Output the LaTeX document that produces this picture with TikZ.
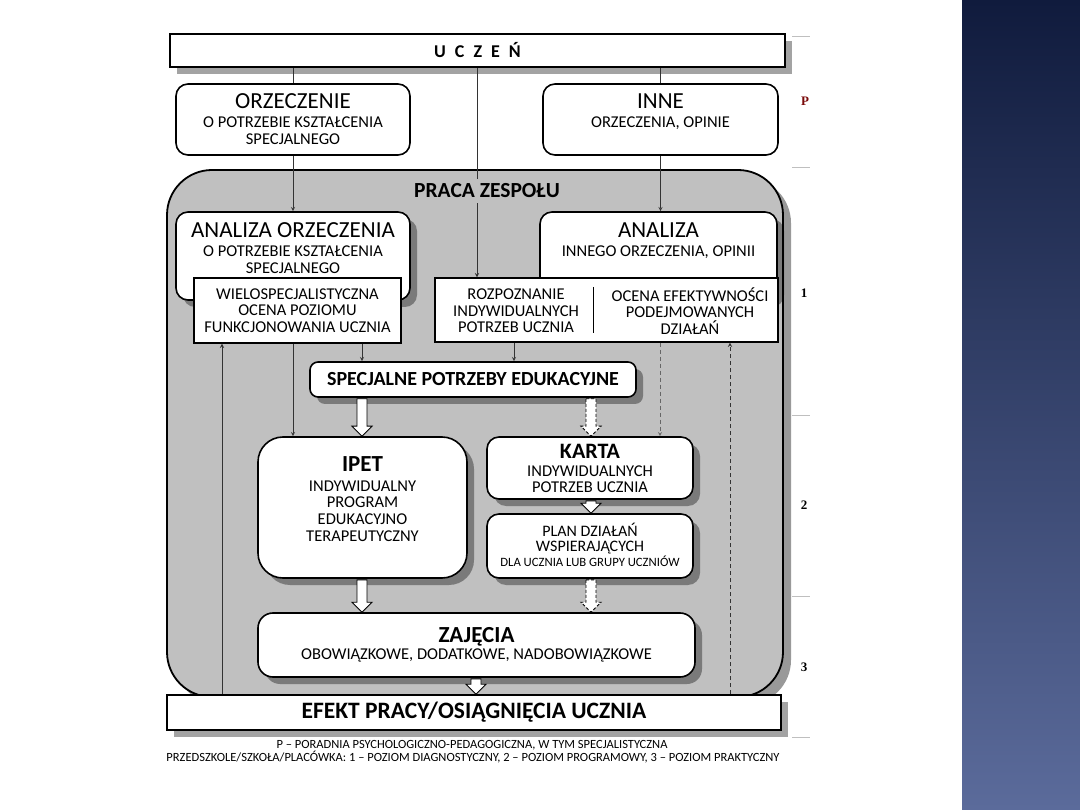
\documentclass[tikz,border=0pt]{standalone}
\usepackage{fontspec}
\setmainfont{Carlito}
\newfontfamily\sidefont{Liberation Serif}
\usetikzlibrary{calc,shadows}
\definecolor{panelgray}{HTML}{C0C0C0}
\definecolor{slidetop}{HTML}{101B3D}
\definecolor{slidebot}{HTML}{5B6B9B}
\definecolor{plabel}{HTML}{7A0A0A}
\newcommand{\hd}{\fontsize{23}{25}\selectfont}% box headings
\newcommand{\sm}{\fontsize{16.5}{17}\selectfont}% small capitals lines
\newcommand{\bhd}{\bfseries\fontsize{23}{25}\selectfont}
\newcommand{\blkarrow}[4]{% x, upper node, lower node, extra style (hollow block arrow)
  \draw[blk,#4] let \p1=(#2.south), \p2=(#3.north) in
    (#1pt-5pt,\y1-1pt) -- (#1pt-5pt,\y2+10pt) -- (#1pt-10pt,\y2+10pt) -- (#1pt,\y2)
    -- (#1pt+10pt,\y2+10pt) -- (#1pt+5pt,\y2+10pt) -- (#1pt+5pt,\y1-1pt) -- cycle;}
\tikzset{
  shade/.style={drop shadow={shadow xshift=7pt,shadow yshift=-7pt,fill=black,opacity=.36}},
  rbox/.style={draw,line width=1.6pt,fill=white,rounded corners=#1,align=center,inner sep=0pt,font=\sm},
  rbox/.default=12pt,
  sqbox/.style={draw,line width=1.4pt,fill=white,align=center,inner sep=0pt},
  bar/.style={sqbox,line width=1.6pt,shade},
  conn/.style={line width=0.9pt,black!80},
  blk/.style={fill=white,draw,line width=0.9pt},
  side/.style={font=\sidefont\bfseries\fontsize{13}{13}\selectfont},
  lines/.style={align=center,font=\fontsize{16.5}{16.7}\selectfont},
}
\begin{document}
\begin{tikzpicture}[x=1pt,y=-1pt,>=stealth]
  \useasboundingbox (0,0) rectangle (1080,810);
  \fill[white] (0,0) rectangle (1080,810);
  % slide background strip
  \fill[top color=slidetop,bottom color=slidebot] (962,0) rectangle (1080,810);
  % level marks
  \foreach \yy in {36,167,415,596,737}
    \draw[black!25,line width=0.8pt] (792,\yy) -- (810,\yy);
  \node[side,text=plabel] (lvP) at (805,101) {P};
  \node[side] (lv1) at (804,293) {1};
  \node[side] (lv2) at (804,505) {2};
  \node[side] (lv3) at (804,667) {3};
  % top row
  \node[bar,minimum width=615,minimum height=33] (ucz) at (477.5,50.5)
    {\bfseries\fontsize{18}{20}\selectfont U\hspace{9pt}C\hspace{9pt}Z\hspace{9pt}E\hspace{9pt}Ń};
  \node[rbox,minimum width=234,minimum height=71] (orz) at (293,119.5)
    {{\hd ORZECZENIE}\\[2pt] O POTRZEBIE KSZTAŁCENIA\\ SPECJALNEGO};
  \node[rbox,minimum width=235,minimum height=71] (inne) at (660.5,119.5) {};
  \node[align=center,font=\sm] (inne-t) at (660.5,112) {{\hd INNE}\\[2pt] ORZECZENIA, OPINIE};
  % team panel
  \node[draw,line width=1.8pt,fill=panelgray,rounded corners=45pt,minimum width=616,minimum height=527,
    drop shadow={shadow xshift=8pt,shadow yshift=-8pt,fill=black!40,opacity=1}] (team) at (475,433.5) {};
  \draw[conn] (orz.north |- ucz.south) -- (orz.north);
  \draw[conn] (inne.north |- ucz.south) -- (inne.north);
  \coordinate (mid) at (477,0);
  \node[font=\bfseries\fontsize{21.5}{23}\selectfont,fill=panelgray,inner sep=5pt] (ttl) at (487,191) {PRACA ZESPOŁU};
  % diagnosis level
  \node[rbox,shade,minimum width=234,minimum height=88] (anOrz) at (293,256) {};
  \node[align=center,font=\sm] (anOrz-t) at (293,248)
    {{\hd ANALIZA ORZECZENIA}\\[2pt] O POTRZEBIE KSZTAŁCENIA\\ SPECJALNEGO};
  \node[rbox,shade,minimum width=237,minimum height=88] (anInne) at (658.5,256) {};
  \node[align=center,font=\sm] (anInne-t) at (658.5,241) {{\hd ANALIZA}\\[2pt] INNEGO ORZECZENIA, OPINII};
  \draw[conn,->] (orz.south) -- (orz.south |- anOrz.north);
  \draw[conn,->] (inne.south) -- (inne.south |- anInne.north);
  \draw[conn] (mid |- ucz.south) -- (mid |- ttl.north);
  \node[sqbox,lines,minimum width=207,minimum height=65] (wielo) at (297.5,310.5)
    {WIELOSPECJALISTYCZNA\\ OCENA POZIOMU\\ FUNKCJONOWANIA UCZNIA};
  \node[sqbox,minimum width=343,minimum height=64] (diag) at (606.5,310) {};
  \draw[conn,->] (mid |- ttl.south) -- (mid |- diag.north);
  \node[lines] (rozp) at (516,311) {ROZPOZNANIE\\ INDYWIDUALNYCH\\ POTRZEB UCZNIA};
  \node[lines] (ocena) at (690,311) {OCENA EFEKTYWNOŚCI\\ PODEJMOWANYCH\\ DZIAŁAŃ};
  \draw[line width=0.9pt] (593,287) -- (593,333);
  % special needs
  \node[rbox=8pt,shade,minimum width=326,minimum height=35,font=\bfseries\fontsize{20}{22}\selectfont] (spe) at (473,379.5)
    {SPECJALNE POTRZEBY EDUKACYJNE};
  \coordinate (cl) at (362,0);
  \coordinate (cw) at (293,0);
  \coordinate (cd) at (514,0);
  \coordinate (ce) at (660,0);
  \coordinate (cu) at (222,0);
  \coordinate (cv) at (730,0);
  \draw[conn,->] (cl |- wielo.south) -- (cl |- spe.north);
  \draw[conn,->] (cd |- diag.south) -- (cd |- spe.north);
  % programme level
  \node[rbox=25pt,shade,minimum width=209,minimum height=141] (ipet) at (362.5,507.5) {};
  \node[lines] (ipet-t) at (362.5,499)
    {{\bhd IPET}\\[3pt] INDYWIDUALNY\\ PROGRAM\\ EDUKACYJNO\\ TERAPEUTYCZNY};
  \node[rbox,shade,minimum width=206,minimum height=62] (karta) at (590,468) {};
  \node[lines] (karta-t) at (590,468.5)
    {{\bfseries\fontsize{22}{24}\selectfont KARTA}\\[1pt] INDYWIDUALNYCH\\ POTRZEB UCZNIA};
  \node[rbox,shade,minimum width=206,minimum height=64] (plan) at (590,546) {};
  \node[align=center,font=\fontsize{16}{15}\selectfont] (plan-t) at (590,545)
    {PLAN DZIAŁAŃ\\ WSPIERAJĄCYCH\\ \fontsize{12.7}{14}\selectfont DLA UCZNIA LUB GRUPY UCZNIÓW};
  \draw[conn,->] (cw |- wielo.south) -- (cw |- ipet.north);
  \draw[conn,->,dash pattern=on 4pt off 3pt,black!60] (ce |- diag.south) -- (ce |- karta.north);
  % practice level
  \node[rbox=15pt,shade,minimum width=437,minimum height=64] (zaj) at (476.5,645)
    {{\bhd ZAJĘCIA}\\[0pt] OBOWIĄZKOWE, DODATKOWE, NADOBOWIĄZKOWE};
  \node[bar,minimum width=614,minimum height=35,font=\bfseries\fontsize{23.5}{25}\selectfont] (efekt) at (474,712.5)
    {EFEKT PRACY/OSIĄGNIĘCIA UCZNIA};
  \draw[conn,->] (cu |- efekt.north) -- (cu |- wielo.south);
  \draw[conn,->,dash pattern=on 4pt off 3pt] (cv |- efekt.north) -- (cv |- diag.south);
  % hollow block arrows
  \blkarrow{362}{spe}{ipet}{}
  \blkarrow{591}{spe}{karta}{dash pattern=on 3pt off 2pt}
  \blkarrow{591}{karta}{plan}{}
  \blkarrow{362}{ipet}{zaj}{}
  \blkarrow{591}{plan}{zaj}{dash pattern=on 3pt off 2pt}
  \blkarrow{476}{zaj}{efekt}{}
  % legend
  \node[font=\fontsize{12.5}{13}\selectfont] (note1) at (472,745)
    {P – PORADNIA PSYCHOLOGICZNO-PEDAGOGICZNA, W TYM SPECJALISTYCZNA};
  \node[font=\fontsize{12.5}{13}\selectfont] (note2) at (473,757.5)
    {PRZEDSZKOLE/SZKOŁA/PLACÓWKA: 1 – POZIOM DIAGNOSTYCZNY, 2 – POZIOM PROGRAMOWY, 3 – POZIOM PRAKTYCZNY};
\end{tikzpicture}
\end{document}
